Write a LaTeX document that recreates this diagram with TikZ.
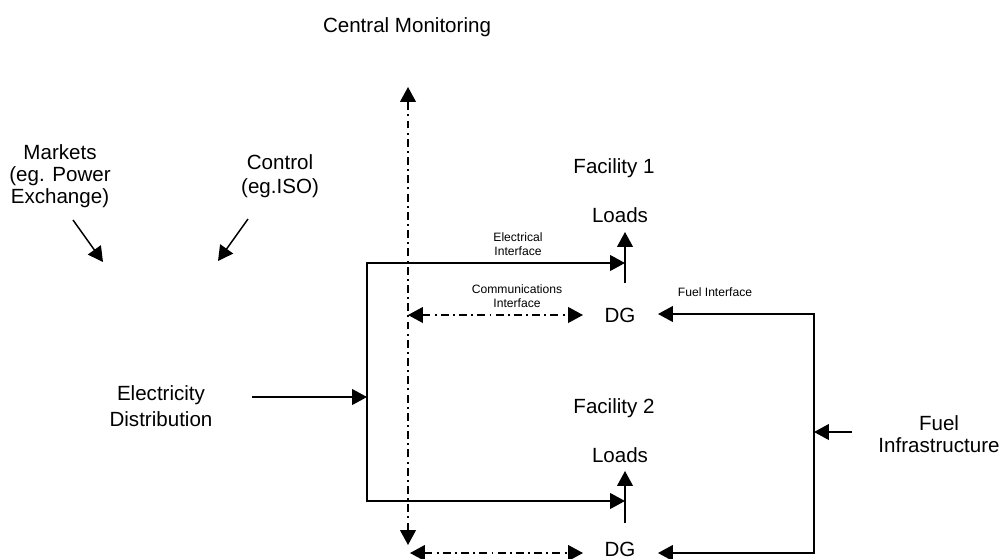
\documentclass[tikz,border=0pt]{standalone}
\usepackage{fontspec}
\setmainfont{Liberation Sans}
\usetikzlibrary{arrows.meta}

\tikzset{
    lbl/.style = {align=center, inner sep=0pt, font=\fontsize{11.7}{12.4}\selectfont},
    widelbl/.style = {lbl, font=\fontsize{11.7}{14.5}\selectfont},
    smalllbl/.style = {align=center, inner sep=0pt, font=\fontsize{6.9}{7.8}\selectfont},
    wire/.style = {line width=0.85pt, -{Triangle[length=8.5pt,width=9pt]}},
    comm/.style = {line width=0.85pt, dash pattern=on 4.5pt off 2.4pt on 1.1pt off 2.4pt,
                   {Triangle[length=8.5pt,width=9pt]}-{Triangle[length=8.5pt,width=9pt]}}
}

\begin{document}
\begin{tikzpicture}[x=0.02cm, y=-0.02cm]
                    \useasboundingbox (0,0) rectangle (1003,558);
                    % texts
                    \node[lbl] (cm) at (407,27) {Central Monitoring};
                    \node[lbl] (mkt) at (60,176) {Markets\\(eg. Power\\Exchange)};
                    \node[lbl, font=\fontsize{11.7}{13.4}\selectfont] (ctl) at (280,176) {Control\\(eg.ISO)};
                    \node[widelbl] (elec) at (161,406) {Electricity\\Distribution};
                    \node[lbl] (fac1) at (614,168) {Facility 1};
                    \node[lbl] (fac2) at (614,408) {Facility 2};
                    \node[lbl] (load1) at (620,215) {Loads};
                    \node[lbl] (load2) at (620,455) {Loads};
                    \node[lbl] (dg1) at (620,315) {DG};
                    \node[lbl] (dg2) at (620,549) {DG};
                    \node[lbl] (fuel) at (939,434) {Fuel\\Infrastructure};
                    \node[smalllbl] (ei) at (518,244) {Electrical\\Interface};
                    \node[smalllbl] (ci) at (517,296) {Communications\\Interface};
                    \node[smalllbl] (fi) at (715,292) {Fuel Interface};
                    % points
                    \coordinate (montop) at (408,87);
                    \coordinate (monbot) at (408,545);
                    \coordinate (bustop) at (367,263);
                    \coordinate (busbot) at (367,501);
                    \coordinate (busin) at (367,397);
                    \coordinate (elecout) at (252,397);
                    \coordinate (e1) at (625,263);
                    \coordinate (e2) at (625,501);
                    \coordinate (l1base) at (625,283);
                    \coordinate (l1tip) at (625,232);
                    \coordinate (l2base) at (625,523);
                    \coordinate (l2tip) at (625,471);
                    \coordinate (c1a) at (408,315);
                    \coordinate (c1b) at (583,315);
                    \coordinate (c2a) at (410,553);
                    \coordinate (c2b) at (583,553);
                    \coordinate (ftop) at (814,314);
                    \coordinate (fbot) at (814,553);
                    \coordinate (f1tip) at (658,314);
                    \coordinate (f2tip) at (658,553);
                    \coordinate (fin) at (814,432);
                    \coordinate (fout) at (852,432);
                    \coordinate (mkta) at (73,220);
                    \coordinate (mktb) at (103,262);
                    \coordinate (ctla) at (248,219);
                    \coordinate (ctlb) at (218,261);
                    % electrical
                    \draw[wire] (busbot) -- (bustop) -- (e1);
                    \draw[wire] (bustop) |- (e2);
                    \draw[wire] (elecout) -- (busin);
                    \draw[wire] (l1base) -- (l1tip);
                    \draw[wire] (l2base) -- (l2tip);
                    \draw[wire] (mkta) -- (mktb);
                    \draw[wire] (ctla) -- (ctlb);
                    % fuel
                    \draw[wire] (fbot) -- (ftop) -- (f1tip);
                    \draw[wire] (ftop) |- (f2tip);
                    \draw[wire] (fout) -- (fin);
                    % communications
                    \draw[comm] (monbot) -- (montop);
                    \draw[comm] (c1a) -- (c1b);
                    \draw[comm] (c2a) -- (c2b);
                \end{tikzpicture}
\end{document}
